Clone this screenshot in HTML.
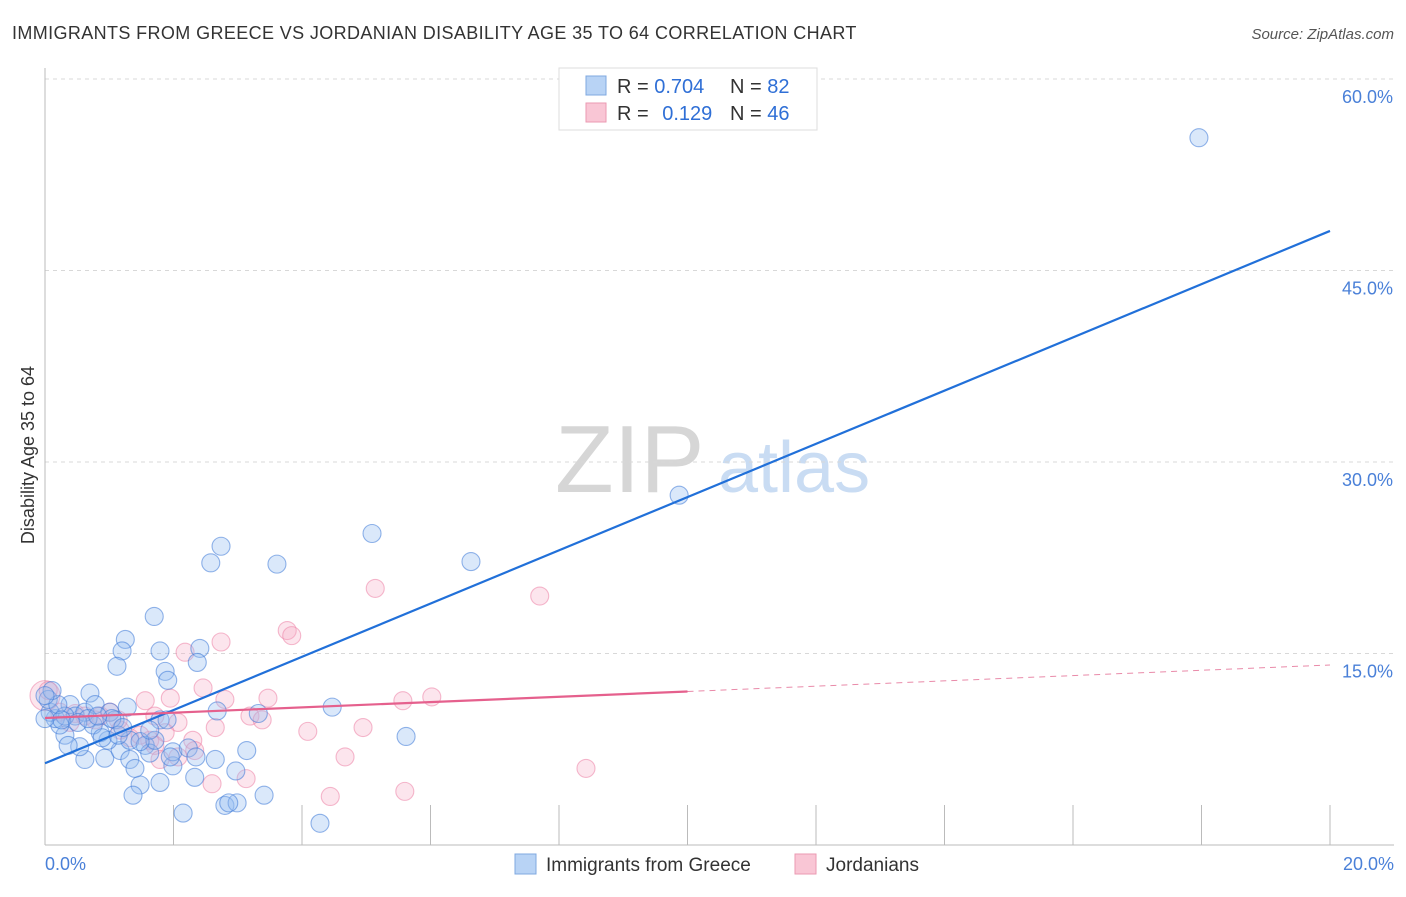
<!DOCTYPE html>
<html><head><meta charset="utf-8"><style>
body{margin:0;background:#fff;font-family:"Liberation Sans",sans-serif;}
svg text{font-family:"Liberation Sans",sans-serif;}
</style></head><body>
<svg id="chart" width="1406" height="892" xmlns="http://www.w3.org/2000/svg">
<text x="12" y="39" font-size="18" fill="#333" letter-spacing="0.38">IMMIGRANTS FROM GREECE VS JORDANIAN DISABILITY AGE 35 TO 64 CORRELATION CHART</text>
<text x="1394" y="39" font-size="15" fill="#555" font-style="italic" text-anchor="end">Source: ZipAtlas.com</text>
<g>
<text x="555" y="492" font-size="96" font-family="Liberation Serif,serif" fill="#d6d6d6">ZIP</text>
<text x="718" y="492" font-size="72" fill="#c9dcf3">atlas</text>
</g>
<text transform="translate(34,455) rotate(-90)" font-size="18" fill="#333" text-anchor="middle">Disability Age 35 to 64</text>
<g id="grid"></g><g id="pts"></g><g id="lines"></g>
<g>
<rect x="559" y="68" width="258" height="62" fill="#fff" stroke="#ddd"/>
<rect x="586" y="76" width="20" height="19" fill="#b8d3f5" stroke="#7fa8e0"/>
<rect x="586" y="103" width="20" height="19" fill="#f9c6d5" stroke="#eb9ab2"/>
<text x="617" y="93" font-size="20" fill="#333">R = <tspan fill="#2f6fd6">0.704</tspan></text>
<text x="730" y="93" font-size="20" fill="#333">N = <tspan fill="#2f6fd6">82</tspan></text>
<text x="617" y="120" font-size="20" fill="#333">R = <tspan fill="#2f6fd6" dx="8">0.129</tspan></text>
<text x="730" y="120" font-size="20" fill="#333">N = <tspan fill="#2f6fd6">46</tspan></text>
</g>
<g>
<rect x="515" y="854" width="21" height="20" fill="#b8d3f5" stroke="#7fa8e0"/>
<text x="546" y="871" font-size="19" fill="#333">Immigrants from Greece</text>
<rect x="795" y="854" width="21" height="20" fill="#f9c6d5" stroke="#eb9ab2"/>
<text x="826" y="871" font-size="19" fill="#333">Jordanians</text>
</g>
</svg>
<script>
const yTicks=[15,30,45,60];
const yTickLabels=["15.0%","30.0%","45.0%","60.0%"];
const xTickLabels=["0.0%","20.0%"];
const blueX=[17.96,9.87,5.09,6.63,2.74,2.58,3.61,1.70,1.25,1.20,1.12,1.79,2.41,2.37,1.87,1.91,0.70,1.28,2.68,3.32,4.47,5.62,3.14,2.97,2.65,2.33,1.99,1.79,1.48,1.37,2.15,2.80,2.99,2.86,3.41,4.28,0.93,0.62,0.54,1.17,1.32,1.56,1.63,1.71,0.98,0.86,0.75,0.31,0.23,0.16,0.08,0.05,0.39,0.47,0.62,0.78,1.01,1.09,1.79,1.90,1.99,1.32,1.40,0.31,0.20,0.11,1.48,2.23,1.04,0.89,1.14,0.26,0.51,0.67,0.82,0.0,0.36,1.63,1.95,2.35,1.21,0.0];
const blueY=[55.4,27.4,24.4,22.2,23.4,22.1,22.0,17.9,16.1,15.2,14.0,15.2,15.4,14.3,13.6,12.9,11.9,10.8,10.5,10.3,10.8,8.5,7.4,5.8,6.7,5.3,6.2,4.9,4.7,3.9,2.5,3.1,3.3,3.3,3.9,1.7,6.8,6.7,7.7,7.4,8.2,7.8,7.2,8.2,8.2,8.8,9.4,8.6,9.4,9.9,10.4,11.4,11.0,10.1,10.4,11.0,10.4,9.8,9.8,9.8,7.3,6.7,6.0,10.1,11.0,12.1,8.1,7.6,9.9,8.4,8.6,9.8,9.6,9.9,10.1,11.7,7.8,9.0,6.9,6.9,9.2,9.9];
const pinkX=[5.14,7.70,3.77,3.84,2.74,2.18,2.46,1.95,1.56,3.47,5.57,6.02,3.19,3.38,2.07,1.71,4.95,4.09,2.65,2.30,2.33,1.87,1.63,1.32,1.17,0.86,0.78,1.01,0.47,0.23,0.0,0.05,0.39,4.67,2.60,3.13,4.44,5.60,8.42,2.07,1.71,1.48,0.62,1.14,2.80,1.79];
const pinkY=[20.1,19.5,16.8,16.4,15.9,15.1,12.3,11.5,11.3,11.5,11.3,11.6,10.1,9.8,9.6,10.1,9.2,8.9,9.2,8.2,7.4,8.8,8.2,8.4,9.0,10.1,9.8,10.4,10.3,10.4,11.7,12.1,9.6,6.9,4.8,5.2,3.8,4.2,6.0,6.9,7.8,8.6,10.1,9.8,11.4,6.7];
const blueFit=[6.4,48.1];
const pinkFit=[9.95,14.1];
const pinkSolidEnd=10;

const X0=45,X1=1330,Y0=845,PX=(X1-X0)/20,PY=191.5/15;
const sx=v=>X0+v*PX, sy=v=>Y0-v*PY;
const NS="http://www.w3.org/2000/svg";
function mk(tag,attrs,parent){const e=document.createElementNS(NS,tag);for(const k in attrs)e.setAttribute(k,attrs[k]);parent.appendChild(e);return e;}
const grid=document.getElementById('grid'),pts=document.getElementById('pts'),lines=document.getElementById('lines');
yTicks.forEach((t,i)=>{
 const l=mk('line',{x1:X0,x2:1394,y1:sy(t),y2:sy(t),stroke:'#d8d8d8','stroke-dasharray':'4,4'},grid);
 
 
 const tx=mk('text',{x:1393,y:sy(t)+24,'font-size':18,fill:'#4a80d8','text-anchor':'end'},grid);
 tx.textContent=yTickLabels[i];
 
 
});
const ax=mk('line',{x1:X0,x2:X0,y1:68,y2:Y0,stroke:'#bbb'},grid);


const bx=mk('line',{x1:X0,x2:1394,y1:Y0,y2:Y0,stroke:'#bbb'},grid);


for(let i=1;i<=10;i++){
 const t=mk('line',{x1:sx(i*2),x2:sx(i*2),y1:Y0-40,y2:Y0,stroke:'#bbb'},grid);
 
 
}
[[0,'start',X0],[1,'end',1394]].forEach(([i,a,x])=>{
 const t=mk('text',{x:x,y:870,'font-size':18,fill:'#4a80d8','text-anchor':a},grid);
 t.textContent=xTickLabels[i];
 
 
});
pinkX.forEach((v,i)=>{
 const c=mk('circle',{cx:sx(v),cy:sy(pinkY[i]),r:(v===0?15:9),fill:'rgba(246,170,195,0.3)',stroke:'rgba(236,130,165,0.55)','stroke-width':1.1},pts);
 
 
});
blueX.forEach((v,i)=>{
 const c=mk('circle',{cx:sx(v),cy:sy(blueY[i]),r:9,fill:'rgba(150,190,240,0.35)',stroke:'rgba(60,120,215,0.55)','stroke-width':1.1},pts);
 
 
});
const bl=mk('line',{x1:sx(0),y1:sy(blueFit[0]),x2:sx(20),y2:sy(blueFit[1]),stroke:'#2170d9','stroke-width':2.2},lines);


const pm=pinkFit[0]+(pinkFit[1]-pinkFit[0])*pinkSolidEnd/20;
const pl=mk('line',{x1:sx(0),y1:sy(pinkFit[0]),x2:sx(pinkSolidEnd),y2:sy(pm),stroke:'#e5608d','stroke-width':2.2},lines);


const pd=mk('line',{x1:sx(pinkSolidEnd),y1:sy(pm),x2:sx(20),y2:sy(pinkFit[1]),stroke:'#e98aa9','stroke-width':1,'stroke-dasharray':'6,5'},lines);


</script>
</body></html>
